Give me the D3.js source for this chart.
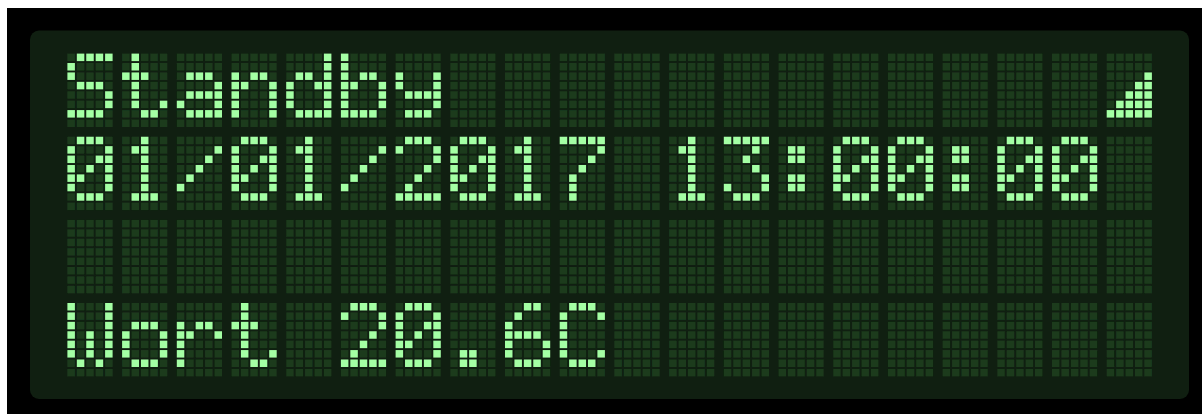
<!DOCTYPE html>
<html>
<head>
<meta charset="utf-8">
<title>LCD display</title>
<script src="https://cdn.jsdelivr.net/npm/d3@7"></script>
<style>
  html, body { margin: 0; padding: 0; background: #fff; overflow: hidden; }
  svg { display: block; }
</style>
</head>
<body>
<div id="chart"></div>
<script>
// the four lines of the display, "^" is the signal strength glyph
const lines = [
  "Standby            ^",
  "01/01/2017 13:00:00 ",
  "                    ",
  "Wort 20.6C          "
];

const colCount = 20;
const dotCols = d3.range(5);
const dotRows = d3.range(8);

// 5x8 dot patterns, one string per dot row
const glyphs = {
  " ": ["00000","00000","00000","00000","00000","00000","00000","00000"],
  "S": ["01111","10000","10000","01110","00001","00001","11110","00000"],
  "t": ["01000","01000","11100","01000","01000","01001","00110","00000"],
  "a": ["00000","00000","01110","00001","01111","10001","01111","00000"],
  "n": ["00000","00000","10110","11001","10001","10001","10001","00000"],
  "d": ["00001","00001","01101","10011","10001","10001","01111","00000"],
  "b": ["10000","10000","10110","11001","10001","10001","11110","00000"],
  "y": ["00000","00000","10001","10001","01111","00001","01110","00000"],
  "W": ["10001","10001","10001","10101","10101","10101","01010","00000"],
  "o": ["00000","00000","01110","10001","10001","10001","01110","00000"],
  "r": ["00000","00000","10110","11001","10000","10000","10000","00000"],
  "C": ["01110","10001","10000","10000","10000","10001","01110","00000"],
  "0": ["01110","10001","10011","10101","11001","10001","01110","00000"],
  "1": ["00100","01100","00100","00100","00100","00100","01110","00000"],
  "2": ["01110","10001","00001","00010","00100","01000","11111","00000"],
  "3": ["11111","00010","00100","00010","00001","10001","01110","00000"],
  "6": ["00110","01000","10000","11110","10001","10001","01110","00000"],
  "7": ["11111","00001","00010","00100","01000","01000","01000","00000"],
  "/": ["00000","00001","00010","00100","01000","10000","00000","00000"],
  ":": ["00000","01100","01100","00000","01100","01100","00000","00000"],
  ".": ["00000","00000","00000","00000","00000","01100","01100","00000"],
  "^": ["00000","00000","00001","00011","00111","01111","11111","00000"]
};

const width = 1202;
const height = 414;

const svg = d3.select("#chart")
  .append("svg")
  .attr("width", width)
  .attr("height", height)
  .attr("role", "img")
  .attr("aria-label", lines.map(l => l.replace("^", "").trim()).join(" / "));

// the dots are slightly soft in the original
svg.append("defs")
  .append("filter")
  .attr("id", "soft")
  .attr("x", 0).attr("y", 0)
  .attr("width", 1).attr("height", 1)
  .append("feGaussianBlur")
  .attr("stdDeviation", 0.45);

svg.append("rect")
  .attr("x", 7).attr("y", 8)
  .attr("width", width - 7).attr("height", height - 8)
  .attr("fill", "#000");

svg.append("rect")
  .attr("x", 30).attr("y", 30.5)
  .attr("width", 1159).attr("height", 368.5)
  .attr("rx", 9)
  .attr("fill", "#101f11");

const cellX = d3.scaleLinear().domain([0, colCount - 1]).range([67.4, 1106.7]);
const cellY = d3.scaleLinear().domain([0, lines.length - 1]).range([53.6, 303]);
const dotX = d3.scaleLinear().domain([0, 4]).range([0, 37.7]);
const dotY = d3.scaleLinear().domain([0, 7]).range([0, 65.9]);
const dotSize = 7.5;

const dots = lines.flatMap((line, row) =>
  d3.range(colCount).flatMap(col => {
    const glyph = glyphs[line[col]];
    return dotRows.flatMap(r => dotCols.map(c => ({
      row, col, r, c,
      on: glyph[r][c] === "1"
    })));
  })
);

svg.append("g")
  .attr("filter", "url(#soft)")
  .selectAll("rect")
  .data(dots)
  .join("rect")
  .attr("x", d => cellX(d.col) + dotX(d.c))
  .attr("y", d => cellY(d.row) + dotY(d.r))
  .attr("width", dotSize)
  .attr("height", dotSize)
  .attr("fill", d => d.on ? "#a4ffa4" : "#1b3a1c");
</script>
</body>
</html>
